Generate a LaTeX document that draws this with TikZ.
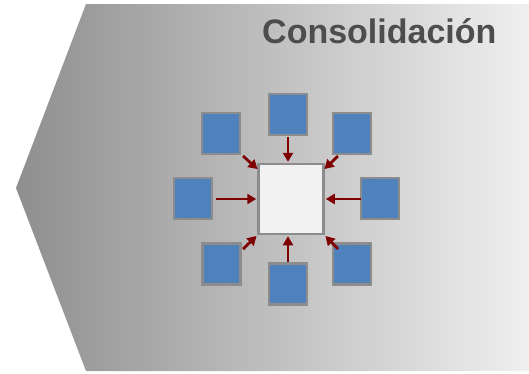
\documentclass[tikz,border=0pt]{standalone}
\usepackage{fontspec}
\setmainfont{Liberation Sans}
\usetikzlibrary{arrows.meta,calc}
\definecolor{blueF}{HTML}{4F81BD}
\definecolor{edgeG}{HTML}{8C8C8C}
\definecolor{arrR}{HTML}{7F0000}
\definecolor{txtG}{HTML}{4D4D4D}
\tikzset{
  leaf/.style={draw=edgeG, line width=2.5pt, fill=blueF, minimum width=38pt, minimum height=41pt, inner sep=0pt},
  hub/.style={draw=edgeG, line width=2.5pt, fill=white!95!black, minimum width=65pt, minimum height=70pt, inner sep=0pt},
  flow/.style={draw=arrR, line width=2.8pt, -{Triangle[length=9pt,width=10pt]}, shorten >=1pt}
}
\begin{document}
\begin{tikzpicture}[x=1pt,y=-1pt]
\useasboundingbox (0,0) rectangle (529,373);
\fill[white] (0,0) rectangle (529,373);
\shade[left color=black!44, right color=black!6] (86,4) -- (529,4) -- (529,371) -- (86,371) -- (16,188) -- cycle;
\node[anchor=base west, text=txtG, font=\bfseries\fontsize{34}{40}\selectfont, inner sep=0pt] (title) at (262,43) {Consolidación};
\node[hub] (c) at (291,199) {};
\node[leaf] (n) at (288,114.5) {};
\node[leaf] (nw) at (221,133.5) {};
\node[leaf] (ne) at (352,133.5) {};
\node[leaf] (w) at (193,198.5) {};
\node[leaf] (e) at (380,198.5) {};
\node[leaf] (sw) at (221.5,264) {};
\node[leaf] (s) at (288,284) {};
\node[leaf] (se) at (352,264) {};
\coordinate (nS) at (288,137);
\coordinate (sN) at (288,262);
\coordinate (wE) at (216,199);
\coordinate (eW) at (361,199);
\coordinate (nwE) at (243,156);
\coordinate (neE) at (338,156);
\coordinate (swE) at (243,249);
\coordinate (seE) at (338,249);
\coordinate (nwT) at ($(c.north west)+(1,7)$);
\coordinate (neT) at ($(c.north east)+(-1,7)$);
\draw[flow] (nS) -- (c.north -| nS);
\draw[flow] (sN) -- (c.south -| sN);
\draw[flow] (wE) -- (c.west |- wE);
\draw[flow] (eW) -- (c.east |- eW);
\draw[flow] (nwE) -- (nwT);
\draw[flow] (neE) -- (neT);
\draw[flow] (swE) -- (c.south west);
\draw[flow] (seE) -- (c.south east);
\end{tikzpicture}
\end{document}
